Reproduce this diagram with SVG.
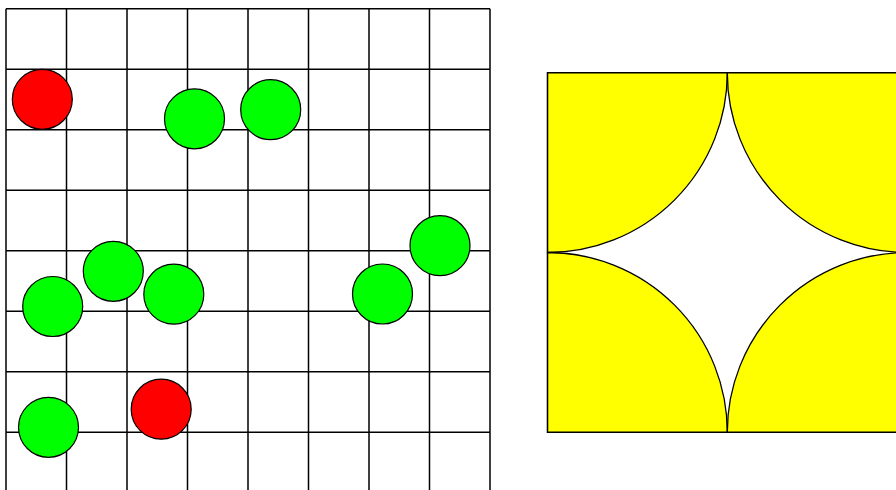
<svg xmlns="http://www.w3.org/2000/svg" width="896" height="490" viewBox="0 0 896 490">
<style>
.g{stroke:#000;stroke-width:1.5;fill:none}
.c{stroke:#000;stroke-width:1.2}
.gr{fill:#00ff00}
.rd{fill:#ff0000}
.y{fill:#ffff00;stroke:#000;stroke-width:1.3}
</style>
<rect width="896" height="490" fill="#fff"/>
<g id="grid" class="g">
<path d="M6 8.7V500M66.5 8.7V500M127 8.7V500M187.5 8.7V500M248 8.7V500M308.5 8.7V500M369 8.7V500M429.5 8.7V500M490 8.7V500"/>
<path d="M6 8.7H490M6 69.2H490M6 129.7H490M6 190.2H490M6 250.7H490M6 311.2H490M6 371.7H490M6 432.2H490"/>
</g>
<g id="circles">
<circle id="r1" class="c rd" cx="42.3" cy="99.3" r="30"/>
<circle id="g1" class="c gr" cx="194.5" cy="118.8" r="30"/>
<circle id="g2" class="c gr" cx="270.7" cy="109.7" r="30"/>
<circle id="g3" class="c gr" cx="440" cy="245.7" r="30"/>
<circle id="g4" class="c gr" cx="382.5" cy="294" r="30"/>
<circle id="g5" class="c gr" cx="52.7" cy="306.5" r="30"/>
<circle id="g6" class="c gr" cx="113.3" cy="271.3" r="30"/>
<circle id="g7" class="c gr" cx="173.8" cy="294.2" r="30"/>
<circle id="g8" class="c gr" cx="48.5" cy="427.3" r="30"/>
<circle id="r2" class="c rd" cx="161.2" cy="409.2" r="30"/>
</g>
<g id="square">
<rect x="547.5" y="72.7" width="359.6" height="359.6" fill="#fff"/>
<path class="y" d="M547.5 72.7H727.3A179.8 179.8 0 0 1 547.5 252.5Z"/>
<path class="y" d="M907.1 72.7H727.3A179.8 179.8 0 0 0 907.1 252.5Z"/>
<path class="y" d="M547.5 432.3H727.3A179.8 179.8 0 0 0 547.5 252.5Z"/>
<path class="y" d="M907.1 432.3H727.3A179.8 179.8 0 0 1 907.1 252.5Z"/>
<rect x="547.5" y="72.7" width="359.6" height="359.6" fill="none" stroke="#000" stroke-width="1.3"/>
</g>
</svg>
